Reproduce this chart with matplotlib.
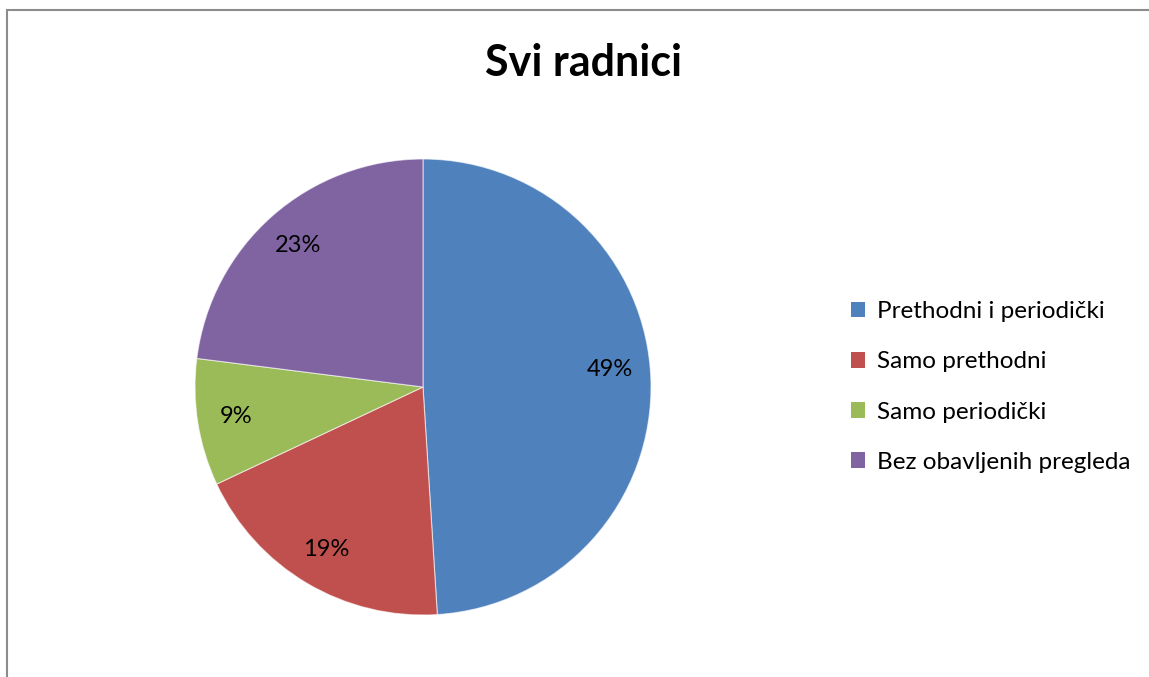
import matplotlib
matplotlib.use("Agg")
import matplotlib.pyplot as plt
from matplotlib.patches import Rectangle, Patch

categories = ["Prethodni i periodički", "Samo prethodni", "Samo periodički", "Bez obavljenih pregleda"]
shares = [49, 19, 9, 23]
colors = ["#4F81BD", "#C0504D", "#9BBB59", "#8064A2"]
title = "Svi radnici"

plt.rcParams["font.family"] = ["Lato", "DejaVu Sans"]

W, H = 1149, 677
fig = plt.figure(figsize=(W / 100, H / 100), dpi=100)
fig.patch.set_facecolor("white")

# chart area frame (left and top edges visible)
fig.add_artist(Rectangle((7 / W, -0.1), 1.2, 1.1 - 10 / H, transform=fig.transFigure,
                         fill=False, edgecolor="#8c8c8c", linewidth=1.5))

ax = fig.add_axes([195 / W, (H - 615) / H, 456 / W, 456 / H])
wedges, texts, autotexts = ax.pie(
    shares, colors=colors, startangle=90, counterclock=False,
    autopct=lambda p: f"{p:.0f}%", pctdistance=0.83, radius=1.0,
    wedgeprops=dict(edgecolor=(1, 1, 1, 0.6), linewidth=0.8),
    textprops=dict(fontsize=17, color="black"))
# nudge the largest slice's label slightly upward
x0, y0 = autotexts[0].get_position()
autotexts[0].set_position((x0 - 0.01, y0 + 0.05))
ax.set_xlim(-1, 1)
ax.set_ylim(-1, 1)
ax.set_aspect("equal")
ax.axis("off")

fig.text(583 / W, 1 - 63 / H, title, ha="center", va="center",
         fontsize=31, fontweight="bold")

handles = [Patch(facecolor=c, edgecolor="none") for c in colors]
fig.legend(handles, categories, loc="center left", bbox_to_anchor=(841 / W, 1 - 387 / H),
           frameon=False, fontsize=17.5, handlelength=0.6, handleheight=0.6,
           handletextpad=0.5, labelspacing=1.2, borderaxespad=0)

fig.savefig("out.png", dpi=100, facecolor="white")
